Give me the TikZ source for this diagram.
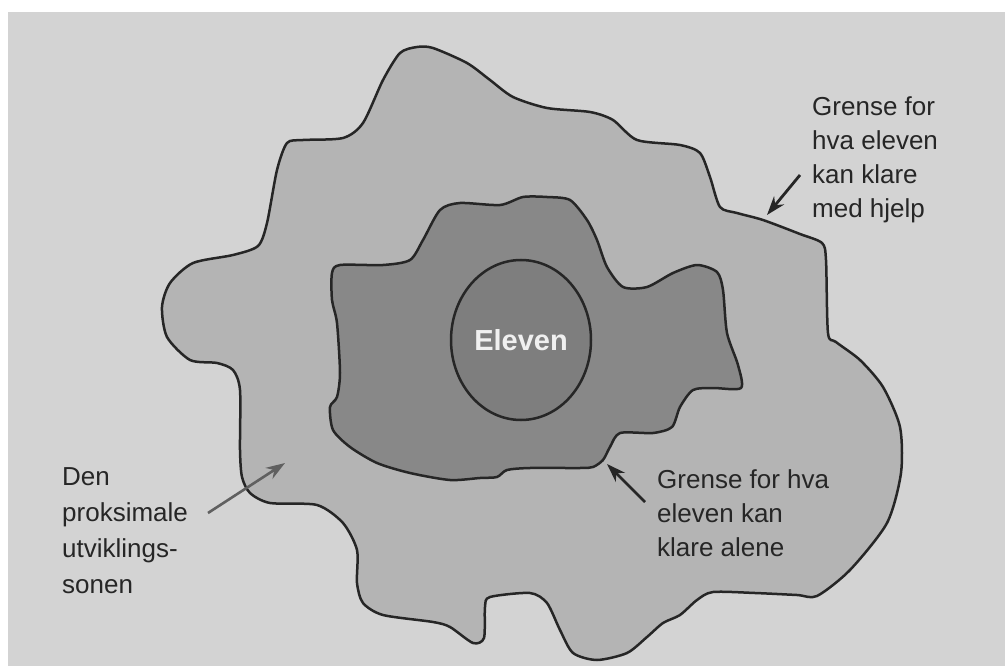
\documentclass[tikz,border=0pt]{standalone}
\usepackage{fontspec}
\setmainfont{Liberation Sans}
\usetikzlibrary{shapes.geometric,arrows.meta}
\definecolor{page}{RGB}{211,211,211}
\definecolor{zoneouter}{RGB}{180,180,180}
\definecolor{zoneinner}{RGB}{136,136,136}
\definecolor{selfcol}{RGB}{126,126,126}
\definecolor{edge}{RGB}{38,38,38}
\definecolor{labelcol}{RGB}{38,38,38}
\tikzset{
  outline/.style={draw=edge, line width=2.5pt, line join=round},
  lbl/.style={anchor=north west, inner sep=0pt, align=left, text=labelcol,
    font=\fontsize{26}{34}\selectfont},
  pointer/.style={draw=edge, line width=2.8pt, -{Stealth[length=19pt,width=13pt]}},
  softpointer/.style={draw=gray!75!black, line width=2.6pt, -{Stealth[length=19pt,width=13pt]}}
}
\begin{document}
\begin{tikzpicture}[x=1pt,y=-1pt]
\useasboundingbox (0,0) rectangle (1005,666);
\fill[white] (0,0) rectangle (1005,666);
\fill[page] (8,12) rectangle (1005,666);
% outer zone: what the pupil can manage with help
\path[outline, fill=zoneouter] plot[smooth cycle, tension=0.45] coordinates {
 (258,246) (267,223) (277,170) (287,143) (303,140) (343,138) (363,123) (383,80)
 (400,53) (417,47) (433,48) (467,63) (490,80) (513,97) (547,108) (590,112)
 (613,120) (637,140) (680,145) (700,153) (710,177) (720,207) (737,213) (763,220)
 (800,234) (822,243) (826,260) (828,333) (836,342) (860,360) (883,387) (900,427)
 (901,473) (887,523) (850,570) (817,596) (797,595) (755,593) (713,592) (697,600)
 (680,615) (663,623) (647,637) (627,653) (597,660) (573,653) (560,630) (547,603)
 (530,593) (490,597) (485,607) (484,638) (473,643) (450,627) (433,622) (383,615)
 (363,603) (357,583) (357,550) (343,523) (317,505) (270,503) (250,493) (242,477)
 (240,450) (240,390) (233,370) (217,363) (190,360) (167,337) (162,307) (170,283)
 (193,263) (233,255)};
% inner zone: what the pupil can manage alone
\path[outline, fill=zoneinner] plot[smooth cycle, tension=0.45] coordinates {
 (423,240) (440,210) (460,203) (500,205) (523,197) (547,197) (570,200) (587,220)
 (597,240) (607,267) (623,287) (647,287) (673,273) (697,265) (717,272) (723,290)
 (727,333) (738,365) (741,388) (713,388) (693,390) (680,407) (672,427) (653,433)
 (620,433) (610,447) (603,460) (593,467) (580,468) (530,468) (507,470) (497,477)
 (480,478) (450,480) (410,473) (377,463) (350,447) (333,430) (330,407) (337,397)
 (340,373) (337,323) (332,300) (332,273) (340,265) (383,265) (410,260)};
% the pupil
\node (eleven) [ellipse, draw=edge, line width=2.5pt, fill=selfcol, minimum width=140pt,
  minimum height=160pt, inner sep=0pt, text=white!94!black,
  font=\fontsize{29}{30}\selectfont\bfseries] at (521,340) {Eleven};
% labels
\node (helpLabel) [lbl] at (812,96) {Grense for\\hva eleven\\kan klare\\med hjelp};
\node (aloneLabel) [lbl] at (657,469) {Grense for hva\\eleven kan\\klare alene};
\node (zpdLabel) [lbl, font=\fontsize{26}{36}\selectfont] at (62,467) {Den\\proksimale\\utviklings-\\sonen};
% arrows
\coordinate (helpTail) at (800,175);
\coordinate (helpTip) at (767,215);
\coordinate (aloneTail) at (645,502);
\coordinate (aloneTip) at (607,464);
\coordinate (zpdTail) at (208,513);
\coordinate (zpdTip) at (285,463);
\draw[pointer] (helpTail) -- (helpTip);
\draw[pointer] (aloneTail) -- (aloneTip);
\draw[softpointer] (zpdTail) -- (zpdTip);
\end{tikzpicture}
\end{document}
